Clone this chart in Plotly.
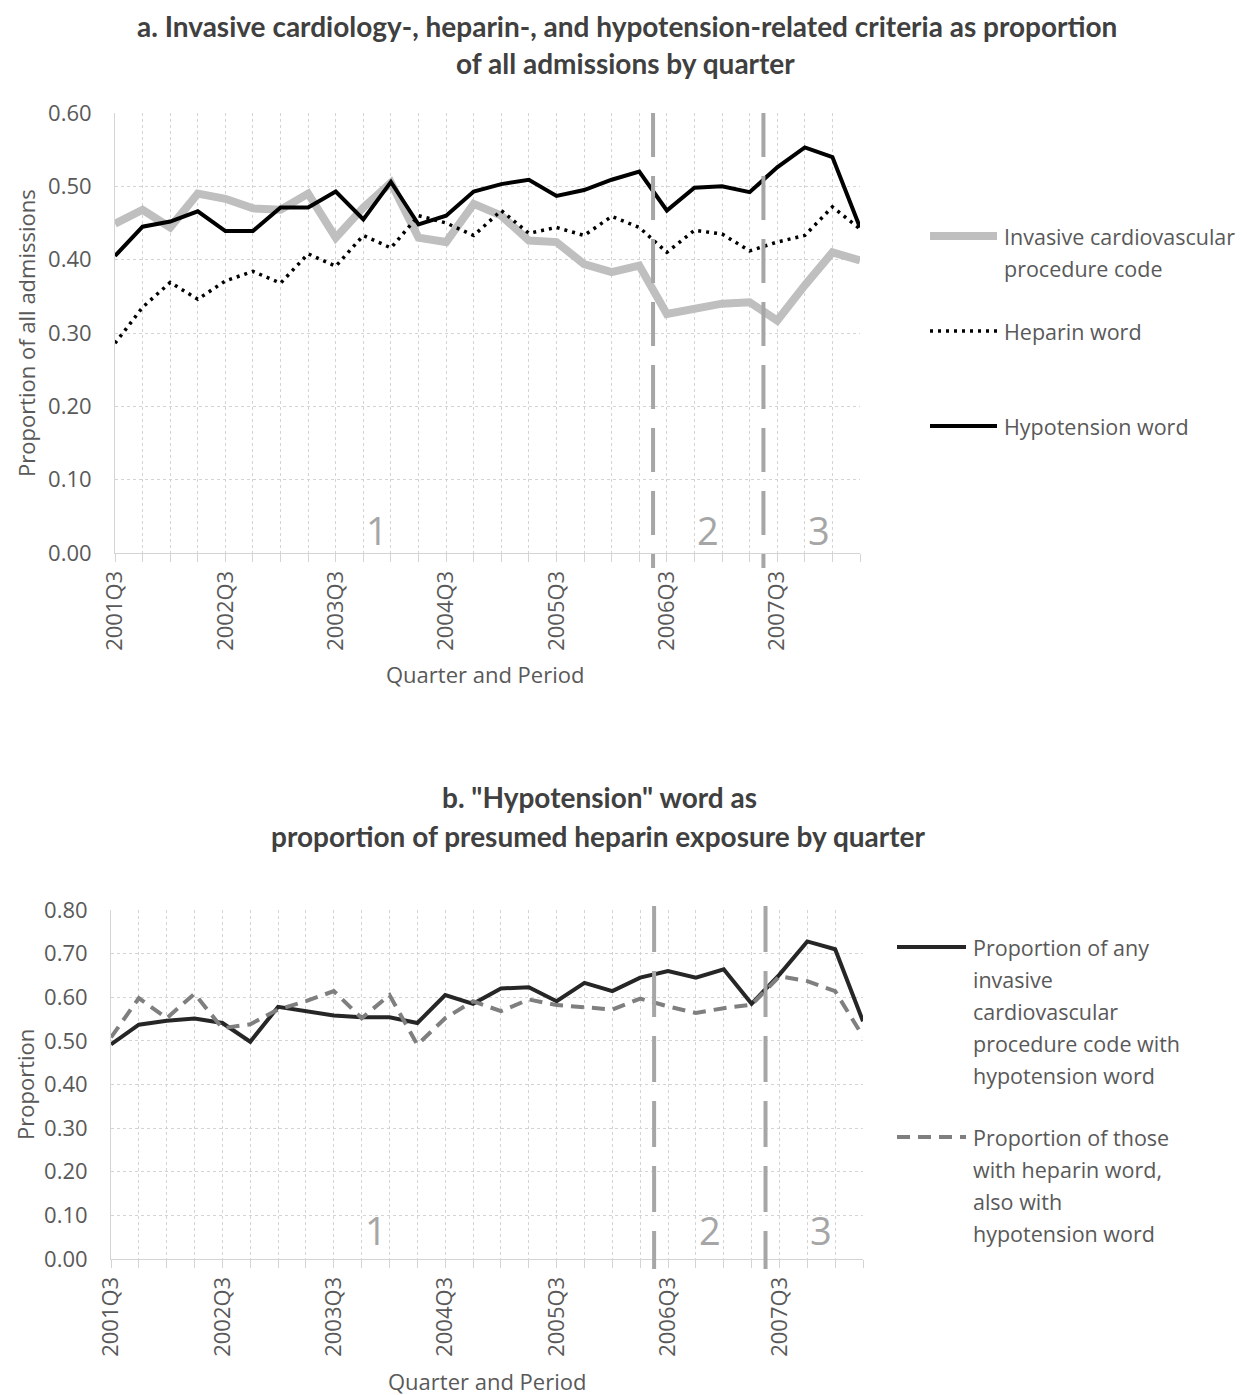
import plotly.graph_objects as go

# page offset (browser body margin) and figure size
OFF = 8
W, H = 1239, 1387

quarters = ["2001Q3", "2001Q4", "2002Q1", "2002Q2", "2002Q3", "2002Q4", "2003Q1", "2003Q2",
            "2003Q3", "2003Q4", "2004Q1", "2004Q2", "2004Q3", "2004Q4", "2005Q1", "2005Q2",
            "2005Q3", "2005Q4", "2006Q1", "2006Q2", "2006Q3", "2006Q4", "2007Q1", "2007Q2",
            "2007Q3", "2007Q4", "2008Q1", "2008Q2"]

# Panel a
invasive_code = [0.449, 0.468, 0.444, 0.490, 0.483, 0.470, 0.468, 0.490, 0.430, 0.471,
                 0.505, 0.430, 0.424, 0.476, 0.460, 0.426, 0.424, 0.394, 0.383, 0.392,
                 0.326, 0.333, 0.340, 0.342, 0.317, 0.365, 0.410, 0.399]
heparin_word = [0.286, 0.335, 0.369, 0.346, 0.371, 0.384, 0.368, 0.408, 0.391, 0.433,
                0.416, 0.460, 0.450, 0.433, 0.467, 0.436, 0.444, 0.433, 0.459, 0.444,
                0.410, 0.440, 0.435, 0.412, 0.424, 0.433, 0.472, 0.442]
hypotension_word = [0.405, 0.445, 0.452, 0.466, 0.439, 0.439, 0.471, 0.471, 0.493, 0.455,
                    0.506, 0.448, 0.460, 0.493, 0.503, 0.509, 0.487, 0.495, 0.509, 0.520,
                    0.467, 0.498, 0.500, 0.492, 0.526, 0.553, 0.540, 0.444]

# Panel b
any_invasive_with_hypo = [0.492, 0.537, 0.546, 0.551, 0.541, 0.498, 0.578, 0.568, 0.558, 0.554,
                          0.554, 0.541, 0.605, 0.585, 0.620, 0.623, 0.591, 0.633, 0.614, 0.645,
                          0.660, 0.645, 0.664, 0.585, 0.652, 0.728, 0.710, 0.545]
heparin_with_hypo = [0.508, 0.598, 0.552, 0.608, 0.529, 0.538, 0.572, 0.591, 0.614, 0.552,
                     0.605, 0.491, 0.552, 0.591, 0.568, 0.595, 0.582, 0.577, 0.572, 0.597,
                     0.579, 0.564, 0.575, 0.583, 0.648, 0.637, 0.614, 0.510]

period_bounds = [19.5, 23.5]
period_labels = ["1", "2", "3"]
period_label_x = [9.5, 21.5, 25.5]

TXT = "#595959"
GRID = "#d4d4d4"
FONT = "Open Sans"
TFONT = "Lato"
FS = 22

xi = list(range(len(quarters)))


def px(x):
    return (x - OFF) / W


def py(y):
    return 1 - (y - OFF) / H


fig = go.Figure()

fig.add_trace(go.Scatter(x=xi, y=invasive_code, mode="lines", xaxis="x", yaxis="y",
                         line=dict(color="#bfbfbf", width=8), showlegend=False,
                         name="Invasive cardiovascular procedure code"))
fig.add_trace(go.Scatter(x=xi, y=heparin_word, mode="lines", xaxis="x", yaxis="y",
                         line=dict(color="#000000", width=3.5, dash="3px,5px"), showlegend=False,
                         name="Heparin word"))
fig.add_trace(go.Scatter(x=xi, y=hypotension_word, mode="lines", xaxis="x", yaxis="y",
                         line=dict(color="#000000", width=4), showlegend=False,
                         name="Hypotension word"))

fig.add_trace(go.Scatter(x=xi, y=any_invasive_with_hypo, mode="lines", xaxis="x2", yaxis="y2",
                         line=dict(color="#262626", width=4), showlegend=False,
                         name="Proportion of any invasive cardiovascular procedure code with hypotension word"))
fig.add_trace(go.Scatter(x=xi, y=heparin_with_hypo, mode="lines", xaxis="x2", yaxis="y2",
                         line=dict(color="#7f7f7f", width=4, dash="13px,8px"), showlegend=False,
                         name="Proportion of those with heparin word, also with hypotension word"))

tickvals = xi[::4]
ticktext = quarters[::4]


def xax(domain, anchor):
    return dict(domain=domain, anchor=anchor, range=[0, len(quarters) - 1],
                tickvals=tickvals, ticktext=ticktext, tickangle=-90,
                tickfont=dict(family=FONT, size=FS, color=TXT),
                ticks="outside", ticklen=8, tickcolor=GRID,
                showgrid=True, gridcolor=GRID, griddash="dot", gridwidth=1,
                minor=dict(dtick=1, tick0=0, showgrid=True, gridcolor=GRID, griddash="dot",
                           ticks="outside", ticklen=8, tickcolor=GRID),
                showline=True, linecolor=GRID, linewidth=1, zeroline=False,
                automargin=False, fixedrange=True)


def yax(domain, anchor, top):
    return dict(domain=domain, anchor=anchor, range=[0, top], dtick=0.1, tickformat=".2f",
                tickfont=dict(family=FONT, size=FS, color=TXT), ticklabelstandoff=18,
                showgrid=True, gridcolor=GRID, griddash="dot", gridwidth=1,
                showline=True, linecolor=GRID, linewidth=1, zeroline=False,
                automargin=False, fixedrange=True)


# pixel boxes (page coordinates) of the two plot areas
A = dict(x0=115, x1=860, y0=113, y1=553)
B = dict(x0=111, x1=863, y0=910, y1=1259)

fig.update_layout(
    width=W, height=H, margin=dict(l=0, r=0, t=0, b=0),
    paper_bgcolor="white", plot_bgcolor="white",
    xaxis=xax([px(A["x0"]), px(A["x1"])], "y"),
    yaxis=yax([py(A["y1"]), py(A["y0"])], "x", 0.6),
    xaxis2=xax([px(B["x0"]), px(B["x1"])], "y2"),
    yaxis2=yax([py(B["y1"]), py(B["y0"])], "x2", 0.8),
)

shapes = []
annotations = []

# period boundary lines
for b in period_bounds:
    shapes.append(dict(type="line", xref="x", yref="paper", x0=b, x1=b,
                       y0=py(113), y1=py(568),
                       line=dict(color="#a6a6a6", width=4, dash="44px,19px")))
    shapes.append(dict(type="line", xref="x2", yref="paper", x0=b, x1=b,
                       y0=py(906), y1=py(1269),
                       line=dict(color="#a6a6a6", width=4, dash="46px,19px")))

for lab, lx in zip(period_labels, period_label_x):
    annotations.append(dict(text=lab, x=lx, y=0.031, xref="x", yref="y", showarrow=False,
                            font=dict(family=FONT, size=38, color="#a6a6a6")))
    annotations.append(dict(text=lab, x=lx, y=0.066, xref="x2", yref="y2", showarrow=False,
                            font=dict(family=FONT, size=38, color="#a6a6a6")))

# titles
title_font = dict(family=TFONT, size=28, color="#404040")
annotations.append(dict(text="<b>a. Invasive cardiology-, heparin-, and hypotension-related criteria as proportion</b>",
                        x=px(627), y=py(26), xref="paper", yref="paper", showarrow=False,
                        xanchor="center", yanchor="middle", font=title_font))
annotations.append(dict(text="<b>of all admissions by quarter</b>",
                        x=px(625), y=py(63), xref="paper", yref="paper", showarrow=False,
                        xanchor="center", yanchor="middle", font=title_font))
annotations.append(dict(text="<b>b. \"Hypotension\" word as</b>",
                        x=px(599), y=py(797), xref="paper", yref="paper", showarrow=False,
                        xanchor="center", yanchor="middle", font=title_font))
annotations.append(dict(text="<b>proportion of presumed heparin exposure by quarter</b>",
                        x=px(598), y=py(836), xref="paper", yref="paper", showarrow=False,
                        xanchor="center", yanchor="middle", font=title_font))

# axis titles
ax_font = dict(family=FONT, size=FS, color=TXT)
annotations.append(dict(text="Proportion of all admissions", x=px(26), y=py(333),
                        xref="paper", yref="paper", showarrow=False, textangle=-90,
                        xanchor="center", yanchor="middle", font=ax_font))
annotations.append(dict(text="Quarter and Period", x=px(485), y=py(674),
                        xref="paper", yref="paper", showarrow=False,
                        xanchor="center", yanchor="middle", font=ax_font))
annotations.append(dict(text="Proportion", x=px(25), y=py(1085),
                        xref="paper", yref="paper", showarrow=False, textangle=-90,
                        xanchor="center", yanchor="middle", font=ax_font))
annotations.append(dict(text="Quarter and Period", x=px(487), y=py(1381),
                        xref="paper", yref="paper", showarrow=False,
                        xanchor="center", yanchor="middle", font=ax_font))

# legends (drawn manually to match the multi-line layout)
legend_font = dict(family=FONT, size=21.5, color=TXT)
legend_a = [
    (236, dict(color="#bfbfbf", width=8), ["Invasive cardiovascular", "procedure code"]),
    (331, dict(color="#000000", width=3.5, dash="3px,5px"), ["Heparin word"]),
    (426, dict(color="#000000", width=4), ["Hypotension word"]),
]
for yy, ln, lines in legend_a:
    shapes.append(dict(type="line", xref="paper", yref="paper", x0=px(930), x1=px(997),
                       y0=py(yy), y1=py(yy), line=ln))
    for k, t in enumerate(lines):
        annotations.append(dict(text=t, x=px(1002), y=py(yy + 32 * k), xref="paper", yref="paper",
                                showarrow=False, xanchor="left", yanchor="middle", font=legend_font))

legend_b = [
    (947, dict(color="#262626", width=4),
     ["Proportion of any", "invasive", "cardiovascular", "procedure code with", "hypotension word"]),
    (1137, dict(color="#7f7f7f", width=4, dash="13px,8px"),
     ["Proportion of those", "with heparin word,", "also with", "hypotension word"]),
]
for yy, ln, lines in legend_b:
    shapes.append(dict(type="line", xref="paper", yref="paper", x0=px(897), x1=px(966),
                       y0=py(yy), y1=py(yy), line=ln))
    for k, t in enumerate(lines):
        annotations.append(dict(text=t, x=px(971), y=py(yy + 32.2 * k), xref="paper", yref="paper",
                                showarrow=False, xanchor="left", yanchor="middle", font=legend_font))

fig.update_layout(shapes=shapes, annotations=annotations)

fig.write_html("out.html")
